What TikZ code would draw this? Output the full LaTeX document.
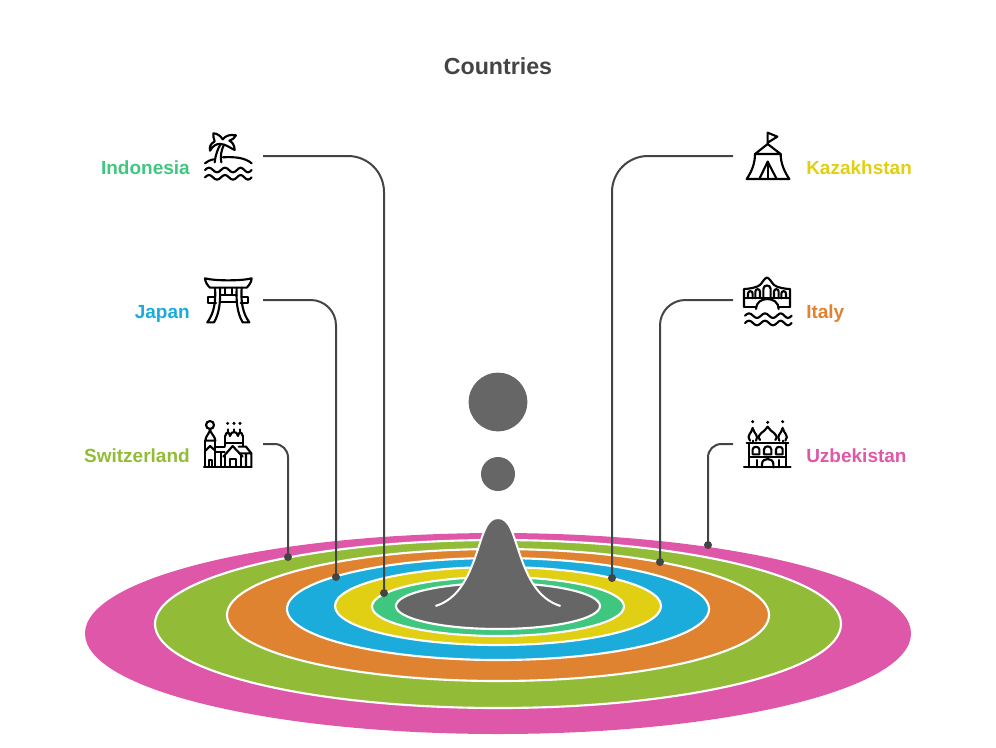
\documentclass[tikz,border=0pt]{standalone}
\usepackage{fontspec}
\setmainfont{Liberation Sans}
\definecolor{cmag}{HTML}{DF57A8}
\definecolor{coli}{HTML}{92BC38}
\definecolor{cora}{HTML}{E08330}
\definecolor{cblu}{HTML}{1CACDC}
\definecolor{cyel}{HTML}{E0CF12}
\definecolor{cgrn}{HTML}{3FC77F}
\definecolor{cgry}{HTML}{666666}
\definecolor{cdrk}{HTML}{444444}
\tikzset{
  ring/.style={draw=white,line width=1.6pt},
  leader/.style={draw=cdrk,line width=1.5pt},
  dotnode/.style={circle,fill=cdrk,inner sep=0pt,minimum size=6pt},
  lab/.style={font=\fontsize{14.25pt}{16pt}\selectfont\bfseries,inner sep=0pt},
  labl/.style={lab,anchor=base east},
  labr/.style={lab,anchor=base west},
  icon/.style={line width=1.6pt,line cap=round,line join=round,black,x=0.25pt,y=-0.25pt},
}
\newcommand{\wavy}[2]{\draw (#1,#2) sin ++(12,-7) cos ++(12,7) sin ++(12,7) cos ++(12,-7) sin ++(12,-7) cos ++(12,7) sin ++(12,7) cos ++(12,-7) sin ++(11,-7) cos ++(11,7) sin ++(11,7) cos ++(11,-7);}
\begin{document}
\begin{tikzpicture}[x=0.75pt,y=-0.75pt]
\useasboundingbox (0,0) rectangle (996,747);
% rings
\fill[cmag] (498,633.5) ellipse [x radius=413,y radius=100.5];
\draw[ring,fill=coli] (498,624) ellipse [x radius=343,y radius=84];
\draw[ring,fill=cora] (498,615) ellipse [x radius=271,y radius=66];
\draw[ring,fill=cblu] (498,609) ellipse [x radius=211,y radius=51];
\draw[ring,fill=cyel] (498,606) ellipse [x radius=163,y radius=39];
\draw[ring,fill=cgrn] (498,606.5) ellipse [x radius=126,y radius=29.5];
\draw[ring,fill=cgry] (498,606) ellipse [x radius=102,y radius=23];
% drop
\fill[cgry] (435.5,606) .. controls (458,599) and (468,578) .. (476,555) .. controls (483,535) and (486,518) .. (498,518) .. controls (510,518) and (513,535) .. (520,555) .. controls (528,578) and (538,599) .. (560.5,606) -- cycle;
\draw[white,line width=1.5pt] (435.5,606) .. controls (458,599) and (468,578) .. (476,555) .. controls (483,535) and (486,518) .. (498,518) .. controls (510,518) and (513,535) .. (520,555) .. controls (528,578) and (538,599) .. (560.5,606);
\node[circle,fill=cgry,inner sep=0pt,minimum size=44pt] (big) at (498,402) {};
\node[circle,fill=cgry,inner sep=0pt,minimum size=25.5pt] (small) at (498,474) {};
% title
\node[font=\fontsize{17.4pt}{20pt}\selectfont\bfseries,text=cdrk,inner sep=0pt] (title) at (498,66) {Countries};
% labels
\node[labl,text=cgrn] (lindo) at (190,174.5) {Indonesia};
\node[labl,text=cblu] (ljap) at (190,318.5) {Japan};
\node[labl,text=coli] (lswi) at (190,462.5) {Switzerland};
\node[labr,text=cyel] (lkaz) at (806,174.5) {Kazakhstan};
\node[labr,text=cora] (lita) at (806,318.5) {Italy};
\node[labr,text=cmag] (luzb) at (806,462.5) {Uzbekistan};
% connectors
\coordinate (sindo) at (263,156);
\coordinate (sjap) at (263,300);
\coordinate (sswi) at (263,444);
\coordinate (skaz) at (733,156);
\coordinate (sita) at (733,300);
\coordinate (suzb) at (733,444);
\node[dotnode] (dindo) at (384,593) {};
\node[dotnode] (djap) at (336,577) {};
\node[dotnode] (dswi) at (288,557) {};
\node[dotnode] (dkaz) at (612,578) {};
\node[dotnode] (dita) at (660,562) {};
\node[dotnode] (duzb) at (708,545) {};
\draw[leader,rounded corners=27pt] (sindo) -| (dindo.center);
\draw[leader,rounded corners=19pt] (sjap) -| (djap.center);
\draw[leader,rounded corners=10pt] (sswi) -| (dswi.center);
\draw[leader,rounded corners=27pt] (skaz) -| (dkaz.center);
\draw[leader,rounded corners=19pt] (sita) -| (dita.center);
\draw[leader,rounded corners=10pt] (suzb) -| (duzb.center);
% palm icon
\begin{scope}[shift={(190,120)},icon]
\wavy{45}{150}
\wavy{45}{172}
\draw (45,130) .. controls (52,124) and (60,120) .. (70,118);
\draw (98,112) .. controls (130,110) and (165,112) .. (185,130);
\draw (74,127) .. controls (76,105) and (84,85) .. (92,72);
\draw (94,127) .. controls (90,110) and (94,90) .. (102,74);
\draw (92,72) .. controls (80,70) and (68,78) .. (60,92) .. controls (58,82) and (60,72) .. (74,64) .. controls (70,55) and (70,48) .. (70,40) .. controls (82,40) and (92,48) .. (98,58) .. controls (105,48) and (120,42) .. (138,46) .. controls (134,54) and (126,60) .. (118,62) .. controls (128,66) and (134,78) .. (134,90) .. controls (122,84) and (110,76) .. (102,74) -- (92,72);
\end{scope}
% torii icon
\begin{scope}[shift={(190,265)},icon]
\draw (45,40) .. controls (75,48) and (155,48) .. (185,40) .. controls (184,52) and (178,60) .. (170,68) -- (60,68) .. controls (52,60) and (46,52) .. (45,40) -- cycle;
\draw (75,68) .. controls (78,110) and (72,145) .. (52,172) -- (72,172) .. controls (88,145) and (92,110) .. (90,68);
\draw (155,68) .. controls (152,110) and (158,145) .. (178,172) -- (158,172) .. controls (142,145) and (138,110) .. (140,68);
\draw (105,68) -- (105,90) (125,68) -- (125,90);
\draw (90,90) -- (140,90) (92,112) -- (138,112);
\draw (75,95) -- (55,95) -- (55,115) -- (78,115);
\draw (155,95) -- (175,95) -- (175,115) -- (152,115);
\end{scope}
% church icon
\begin{scope}[shift={(190,410)},icon]
\draw (60,45) circle [radius=12];
\draw (60,57) .. controls (60,70) and (46,78) .. (46,92) -- (76,92) .. controls (76,78) and (60,70) .. (60,57);
\draw (46,92) -- (46,170) (76,92) -- (76,170);
\draw (46,122) -- (60,108) -- (76,122);
\draw (56,170) -- (56,150) -- (66,150) -- (66,170);
\draw (42,170) -- (185,170);
\draw (76,110) -- (104,110) (76,126) -- (104,126);
\draw (93,126) -- (93,170);
\draw (100,140) -- (128,108) -- (158,140);
\draw (106,134) -- (106,170) (152,134) -- (152,170);
\draw (120,170) -- (120,146) -- (138,146) -- (138,170);
\draw (146,110) -- (168,110) -- (184,130) -- (184,170) (150,130) -- (184,130) (168,130) -- (168,170);
\draw (106,108) -- (106,78) (158,78) -- (158,108);
\draw (106,100) -- (158,100);
\draw (113,70) -- (113,58) (132,66) -- (132,58) (150,70) -- (150,58);
\draw (106,78) .. controls (108,64) and (118,64) .. (120,78) .. controls (122,62) and (142,62) .. (144,78) .. controls (146,64) and (156,64) .. (158,78);
\fill (113,40) circle [radius=5];
\fill (132,40) circle [radius=5];
\fill (150,40) circle [radius=5];
\end{scope}
% tent icon
\begin{scope}[shift={(730,120)},icon]
\draw (113,72) -- (113,38) -- (142,50) -- (113,68);
\draw (113,72) -- (75,102) -- (152,102) -- cycle;
\draw (75,102) .. controls (75,130) and (65,155) .. (50,177) -- (178,177) .. controls (163,155) and (152,130) .. (152,102);
\draw (88,177) -- (113,125) -- (140,177);
\draw (113,125) -- (113,177);
\end{scope}
% bridge icon
\begin{scope}[shift={(730,265)},icon]
\wavy{45}{152}
\wavy{45}{174}
\draw (42,125) -- (42,72) .. controls (55,72) and (80,68) .. (90,60) .. controls (98,52) and (104,38) .. (111,38) .. controls (118,38) and (124,52) .. (132,60) .. controls (142,68) and (167,72) .. (180,72) -- (180,125);
\draw (42,125) -- (78,125) (146,125) -- (180,125);
\draw (78,132) .. controls (78,92) and (146,92) .. (146,132);
\draw (42,100) -- (180,100);
\draw (54,100) -- (54,86) .. controls (54,76) and (68,76) .. (68,86) -- (68,100);
\draw (76,100) -- (76,80) .. controls (76,70) and (90,70) .. (90,80) -- (90,100);
\draw (100,100) -- (100,72) .. controls (100,58) and (122,58) .. (122,72) -- (122,100);
\draw (132,100) -- (132,80) .. controls (132,70) and (146,70) .. (146,80) -- (146,100);
\draw (154,100) -- (154,86) .. controls (154,76) and (168,76) .. (168,86) -- (168,100);
\end{scope}
% mosque icon
\begin{scope}[shift={(730,410)},icon]
\draw (42,172) -- (182,172);
\draw (50,100) -- (175,100);
\draw (58,100) -- (58,172) (168,100) -- (168,172);
\draw (58,140) -- (168,140);
\draw (90,90) .. controls (76,72) and (104,68) .. (113,50) .. controls (122,68) and (150,72) .. (136,90);
\draw (60,92) .. controls (48,76) and (64,72) .. (68,54) .. controls (72,72) and (88,76) .. (78,92);
\draw (148,92) .. controls (138,76) and (154,72) .. (158,54) .. controls (162,72) and (178,76) .. (166,92);
\draw (68,92) -- (68,100) (158,92) -- (158,100);
\fill (68,35) circle [radius=5];
\fill (113,37) circle [radius=5];
\fill (158,35) circle [radius=5];
\draw (68,133) -- (68,118) .. controls (68,108) and (88,108) .. (88,118) -- (88,133) -- cycle;
\draw (102,133) -- (102,118) .. controls (102,106) and (124,106) .. (124,118) -- (124,133) -- cycle;
\draw (138,133) -- (138,118) .. controls (138,108) and (158,108) .. (158,118) -- (158,133) -- cycle;
\draw (96,172) -- (96,162) .. controls (96,142) and (130,142) .. (130,162) -- (130,172);
\draw (80,150) -- (80,172) (146,150) -- (146,172);
\end{scope}
\end{tikzpicture}
\end{document}
